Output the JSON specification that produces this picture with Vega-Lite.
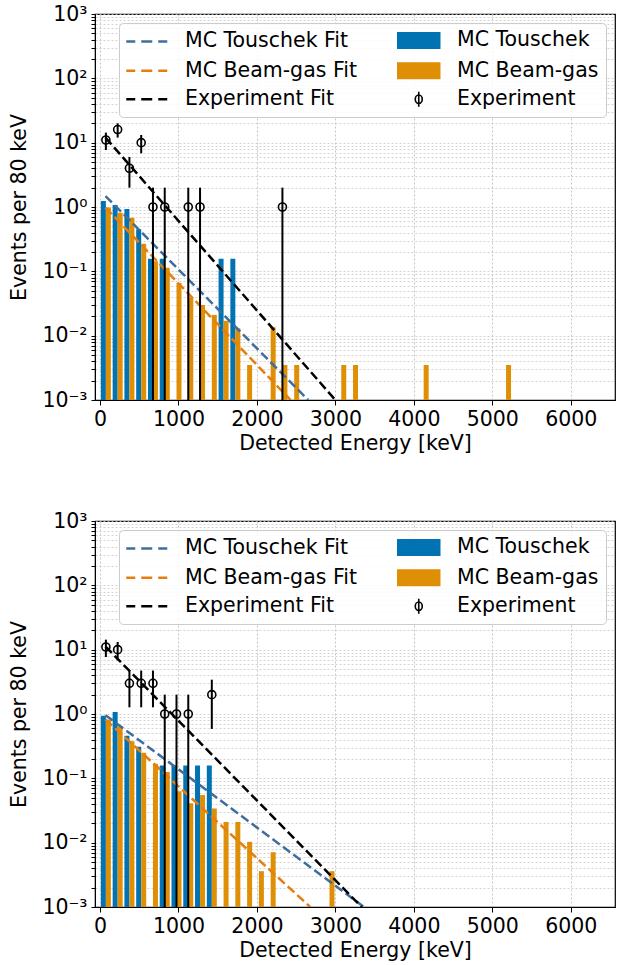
{
  "$schema": "https://vega.github.io/schema/vega-lite/v6.json",
  "padding": {"left": 9, "top": 3, "right": 6, "bottom": 4},
  "background": "white",
  "config": {
    "font": "DejaVu Sans",
    "view": {"stroke": "black", "strokeWidth": 1.2},
    "axis": {
      "labelFont": "DejaVu Sans", "labelFontSize": 20.5, "labelColor": "black",
      "titleFont": "DejaVu Sans", "titleFontSize": 20.5, "titleFontWeight": "normal", "titleColor": "black",
      "domainColor": "black", "tickColor": "black", "labelOverlap": false, "labelBound": false, "labelFlush": false
    },
    "legend": {
      "title": null, "orient": "top-right", "offset": 9, "columns": 2, "direction": "vertical",
      "columnPadding": 36, "rowPadding": 4.5, "labelOffset": 28, "symbolOffset": 10.5, "labelFontSize": 20.5, "labelFont": "DejaVu Sans", "labelColor": "black", "labelLimit": 400,
      "symbolSize": 400, "padding": 7,
      "fillColor": "rgba(255,255,255,0.85)", "strokeColor": "#cccccc", "cornerRadius": 4
    }
  },
  "datasets": {
    "barsdata": [
      {"panel": "top", "series": "MC Touschek", "E": 75, "v": 1.24},
      {"panel": "top", "series": "MC Touschek", "E": 225, "v": 1.07},
      {"panel": "top", "series": "MC Touschek", "E": 375, "v": 0.93},
      {"panel": "top", "series": "MC Touschek", "E": 525, "v": 0.45},
      {"panel": "top", "series": "MC Touschek", "E": 675, "v": 0.157},
      {"panel": "top", "series": "MC Touschek", "E": 825, "v": 0.157},
      {"panel": "top", "series": "MC Touschek", "E": 1575, "v": 0.157},
      {"panel": "top", "series": "MC Touschek", "E": 1725, "v": 0.157},
      {"panel": "top", "series": "MC Beam-gas", "E": 75, "v": 0.98},
      {"panel": "top", "series": "MC Beam-gas", "E": 225, "v": 0.815},
      {"panel": "top", "series": "MC Beam-gas", "E": 375, "v": 0.68},
      {"panel": "top", "series": "MC Beam-gas", "E": 525, "v": 0.268},
      {"panel": "top", "series": "MC Beam-gas", "E": 675, "v": 0.144},
      {"panel": "top", "series": "MC Beam-gas", "E": 825, "v": 0.114},
      {"panel": "top", "series": "MC Beam-gas", "E": 975, "v": 0.066},
      {"panel": "top", "series": "MC Beam-gas", "E": 1125, "v": 0.039},
      {"panel": "top", "series": "MC Beam-gas", "E": 1275, "v": 0.030},
      {"panel": "top", "series": "MC Beam-gas", "E": 1425, "v": 0.021},
      {"panel": "top", "series": "MC Beam-gas", "E": 1575, "v": 0.017},
      {"panel": "top", "series": "MC Beam-gas", "E": 1725, "v": 0.013},
      {"panel": "top", "series": "MC Beam-gas", "E": 1875, "v": 0.0035},
      {"panel": "top", "series": "MC Beam-gas", "E": 2175, "v": 0.0135},
      {"panel": "top", "series": "MC Beam-gas", "E": 2325, "v": 0.0035},
      {"panel": "top", "series": "MC Beam-gas", "E": 2475, "v": 0.0035},
      {"panel": "top", "series": "MC Beam-gas", "E": 3075, "v": 0.0035},
      {"panel": "top", "series": "MC Beam-gas", "E": 3225, "v": 0.0035},
      {"panel": "top", "series": "MC Beam-gas", "E": 4125, "v": 0.0035},
      {"panel": "top", "series": "MC Beam-gas", "E": 5175, "v": 0.0035},
      {"panel": "bottom", "series": "MC Touschek", "E": 75, "v": 0.94},
      {"panel": "bottom", "series": "MC Touschek", "E": 225, "v": 1.07},
      {"panel": "bottom", "series": "MC Touschek", "E": 375, "v": 0.46},
      {"panel": "bottom", "series": "MC Touschek", "E": 525, "v": 0.31},
      {"panel": "bottom", "series": "MC Touschek", "E": 825, "v": 0.158},
      {"panel": "bottom", "series": "MC Touschek", "E": 975, "v": 0.158},
      {"panel": "bottom", "series": "MC Touschek", "E": 1125, "v": 0.158},
      {"panel": "bottom", "series": "MC Touschek", "E": 1275, "v": 0.158},
      {"panel": "bottom", "series": "MC Touschek", "E": 1425, "v": 0.158},
      {"panel": "bottom", "series": "MC Beam-gas", "E": 75, "v": 0.816},
      {"panel": "bottom", "series": "MC Beam-gas", "E": 225, "v": 0.645},
      {"panel": "bottom", "series": "MC Beam-gas", "E": 375, "v": 0.377},
      {"panel": "bottom", "series": "MC Beam-gas", "E": 525, "v": 0.249},
      {"panel": "bottom", "series": "MC Beam-gas", "E": 675, "v": 0.168},
      {"panel": "bottom", "series": "MC Beam-gas", "E": 825, "v": 0.125},
      {"panel": "bottom", "series": "MC Beam-gas", "E": 975, "v": 0.063},
      {"panel": "bottom", "series": "MC Beam-gas", "E": 1125, "v": 0.041},
      {"panel": "bottom", "series": "MC Beam-gas", "E": 1275, "v": 0.055},
      {"panel": "bottom", "series": "MC Beam-gas", "E": 1425, "v": 0.034},
      {"panel": "bottom", "series": "MC Beam-gas", "E": 1575, "v": 0.021},
      {"panel": "bottom", "series": "MC Beam-gas", "E": 1725, "v": 0.021},
      {"panel": "bottom", "series": "MC Beam-gas", "E": 1875, "v": 0.0103},
      {"panel": "bottom", "series": "MC Beam-gas", "E": 2025, "v": 0.0036},
      {"panel": "bottom", "series": "MC Beam-gas", "E": 2175, "v": 0.0071},
      {"panel": "bottom", "series": "MC Beam-gas", "E": 2925, "v": 0.0036}
    ],
    "fitsdata": [
      {"panel": "top", "series": "MC Touschek Fit", "E": 70, "v": 1.48},
      {"panel": "top", "series": "MC Touschek Fit", "E": 2654, "v": 0.001},
      {"panel": "top", "series": "MC Beam-gas Fit", "E": 70, "v": 0.98},
      {"panel": "top", "series": "MC Beam-gas Fit", "E": 2430, "v": 0.001},
      {"panel": "top", "series": "Experiment Fit", "E": 70, "v": 12},
      {"panel": "top", "series": "Experiment Fit", "E": 3000, "v": 0.001},
      {"panel": "bottom", "series": "MC Touschek Fit", "E": 70, "v": 0.96},
      {"panel": "bottom", "series": "MC Touschek Fit", "E": 3365, "v": 0.001},
      {"panel": "bottom", "series": "MC Beam-gas Fit", "E": 70, "v": 0.82},
      {"panel": "bottom", "series": "MC Beam-gas Fit", "E": 2680, "v": 0.001},
      {"panel": "bottom", "series": "Experiment Fit", "E": 70, "v": 11.2},
      {"panel": "bottom", "series": "Experiment Fit", "E": 3335, "v": 0.001}
    ],
    "expdata": [
      {"panel": "top", "series": "Experiment", "E": 75, "v": 11, "lo": 7.68, "hi": 14.32},
      {"panel": "top", "series": "Experiment", "E": 225, "v": 16, "lo": 12, "hi": 20},
      {"panel": "top", "series": "Experiment", "E": 375, "v": 4, "lo": 2, "hi": 6},
      {"panel": "top", "series": "Experiment", "E": 525, "v": 10, "lo": 6.84, "hi": 13.16},
      {"panel": "top", "series": "Experiment", "E": 675, "v": 1, "lo": 0.001, "hi": 2},
      {"panel": "top", "series": "Experiment", "E": 825, "v": 1, "lo": 0.001, "hi": 2},
      {"panel": "top", "series": "Experiment", "E": 1125, "v": 1, "lo": 0.001, "hi": 2},
      {"panel": "top", "series": "Experiment", "E": 1275, "v": 1, "lo": 0.001, "hi": 2},
      {"panel": "top", "series": "Experiment", "E": 2325, "v": 1, "lo": 0.001, "hi": 2},
      {"panel": "bottom", "series": "Experiment", "E": 75, "v": 11, "lo": 7.68, "hi": 14.32},
      {"panel": "bottom", "series": "Experiment", "E": 225, "v": 10, "lo": 6.84, "hi": 13.16},
      {"panel": "bottom", "series": "Experiment", "E": 375, "v": 3, "lo": 1.27, "hi": 4.73},
      {"panel": "bottom", "series": "Experiment", "E": 525, "v": 3, "lo": 1.27, "hi": 4.73},
      {"panel": "bottom", "series": "Experiment", "E": 675, "v": 3, "lo": 1.27, "hi": 4.73},
      {"panel": "bottom", "series": "Experiment", "E": 825, "v": 1, "lo": 0.001, "hi": 2},
      {"panel": "bottom", "series": "Experiment", "E": 975, "v": 1, "lo": 0.001, "hi": 2},
      {"panel": "bottom", "series": "Experiment", "E": 1125, "v": 1, "lo": 0.001, "hi": 2},
      {"panel": "bottom", "series": "Experiment", "E": 1425, "v": 2, "lo": 0.586, "hi": 3.414}
    ]
  },
  "spacing": 55,
  "resolve": {"scale": {"color": "independent"}},
  "vconcat": [
    {
      "width": 520, "height": 386,
      "layer": [
        {
          "data": {"name": "barsdata"},
          "transform": [{"filter": "datum.panel === 'top' && datum.series === 'MC Touschek'"}],
          "mark": {"type": "bar", "width": 5, "xOffset": -2.5, "clip": true},
          "encoding": {
            "x": {"field": "E", "type": "quantitative", "scale": {"domain": [0, 6500], "nice": false, "zero": false},
              "axis": {"title": "Detected Energy [keV]", "values": [0, 1000, 2000, 3000, 4000, 5000, 6000], "format": "d", "tickSize": 5, "labelPadding": 4, "titlePadding": 4, "grid": true, "gridDash": [2, 2], "gridColor": "#b8b8b8", "gridWidth": 0.8}},
            "y": {"field": "v", "type": "quantitative", "scale": {"type": "log", "domain": [0.001, 1000], "nice": false},
              "axis": {"title": "Events per 80 keV", "orient": "left",
                "values": [0.001, 0.002, 0.003, 0.004, 0.005, 0.006, 0.007, 0.008, 0.009, 0.01, 0.02, 0.03, 0.04, 0.05, 0.06, 0.07, 0.08, 0.09, 0.1, 0.2, 0.3, 0.4, 0.5, 0.6, 0.7, 0.8, 0.9, 1, 2, 3, 4, 5, 6, 7, 8, 9, 10, 20, 30, 40, 50, 60, 70, 80, 90, 100, 200, 300, 400, 500, 600, 700, 800, 900, 1000],
                "labelExpr": "datum.value === 1000 ? '10³' : datum.value === 100 ? '10²' : datum.value === 10 ? '10¹' : datum.value === 1 ? '10⁰' : datum.value === 0.1 ? '10⁻¹' : datum.value === 0.01 ? '10⁻²' : datum.value === 0.001 ? '10⁻³' : ''",
                "tickSize": 4,
                "labelPadding": 4, "titlePadding": 12, "grid": true,
                "gridDash": [2, 2], "gridWidth": 0.8, "gridColor": "#c8c8c8"}},
            "y2": {"datum": 0.001},
            "color": {"field": "series", "type": "nominal",
              "scale": {"domain": ["MC Touschek Fit", "MC Beam-gas Fit", "Experiment Fit", "MC Touschek", "MC Beam-gas", "Experiment"], "range": ["#3f6d9c", "#e67e0e", "#000000", "#0173b2", "#de8f05", "#000000"]},
              "legend": {
                "encode": {"symbols": {"update": {
                  "shape": {"signal": "(datum.value === 'MC Touschek Fit' || datum.value === 'MC Beam-gas Fit' || datum.value === 'Experiment Fit') ? 'M-2.05,0H-1.15M-0.55,0H0.55M1.15,0H2.05' : datum.value === 'Experiment' ? 'M0,-0.75V0.75M0.35,0A0.35,0.42 0 1,1 -0.35,0A0.35,0.42 0 1,1 0.35,0M0.35,0A0.35,0.42 0 1,0 -0.35,0A0.35,0.42 0 1,0 0.35,0' : 'M-2.05,-0.73H2.05V0.73H-2.05Z'"},
                  "stroke": {"signal": "datum.value === 'MC Touschek Fit' ? '#3f6d9c' : datum.value === 'MC Beam-gas Fit' ? '#e67e0e' : (datum.value === 'Experiment Fit' || datum.value === 'Experiment') ? '#000000' : 'transparent'"},
                  "strokeWidth": {"signal": "datum.value === 'Experiment' ? 1.6 : 2.5"},
                  "opacity": {"value": 1}
                }}}
              }}
          }
        },
        {
          "data": {"name": "barsdata"},
          "transform": [{"filter": "datum.panel === 'top' && datum.series === 'MC Beam-gas'"}],
          "mark": {"type": "bar", "width": 5, "xOffset": 2.5, "clip": true},
          "encoding": {
            "x": {"field": "E", "type": "quantitative"},
            "y": {"field": "v", "type": "quantitative"},
            "y2": {"datum": 0.001},
            "color": {"field": "series", "type": "nominal",
              "scale": {"domain": ["MC Touschek Fit", "MC Beam-gas Fit", "Experiment Fit", "MC Touschek", "MC Beam-gas", "Experiment"], "range": ["#3f6d9c", "#e67e0e", "#000000", "#0173b2", "#de8f05", "#000000"]}}
          }
        },
        {
          "data": {"name": "fitsdata"},
          "transform": [{"filter": "datum.panel === 'top'"}],
          "mark": {"type": "line", "strokeDash": [9, 4], "strokeWidth": 2.5, "clip": true},
          "encoding": {
            "x": {"field": "E", "type": "quantitative"},
            "y": {"field": "v", "type": "quantitative"},
            "color": {"field": "series", "type": "nominal",
              "scale": {"domain": ["MC Touschek Fit", "MC Beam-gas Fit", "Experiment Fit", "MC Touschek", "MC Beam-gas", "Experiment"], "range": ["#3f6d9c", "#e67e0e", "#000000", "#0173b2", "#de8f05", "#000000"]}}
          }
        },
        {
          "data": {"name": "expdata"},
          "transform": [{"filter": "datum.panel === 'top'"}],
          "mark": {"type": "rule", "strokeWidth": 2, "clip": true},
          "encoding": {
            "x": {"field": "E", "type": "quantitative"},
            "y": {"field": "lo", "type": "quantitative"},
            "y2": {"field": "hi"},
            "color": {"field": "series", "type": "nominal",
              "scale": {"domain": ["MC Touschek Fit", "MC Beam-gas Fit", "Experiment Fit", "MC Touschek", "MC Beam-gas", "Experiment"], "range": ["#3f6d9c", "#e67e0e", "#000000", "#0173b2", "#de8f05", "#000000"]}}
          }
        },
        {
          "data": {"name": "expdata"},
          "transform": [{"filter": "datum.panel === 'top'"}],
          "mark": {"type": "point", "shape": "circle", "filled": false, "size": 64, "strokeWidth": 1.6, "opacity": 1, "clip": true},
          "encoding": {
            "x": {"field": "E", "type": "quantitative"},
            "y": {"field": "v", "type": "quantitative"},
            "color": {"field": "series", "type": "nominal",
              "scale": {"domain": ["MC Touschek Fit", "MC Beam-gas Fit", "Experiment Fit", "MC Touschek", "MC Beam-gas", "Experiment"], "range": ["#3f6d9c", "#e67e0e", "#000000", "#0173b2", "#de8f05", "#000000"]}}
          }
        }
      ]
    },
    {
      "width": 520, "height": 386,
      "layer": [
        {
          "data": {"name": "barsdata"},
          "transform": [{"filter": "datum.panel === 'bottom' && datum.series === 'MC Touschek'"}],
          "mark": {"type": "bar", "width": 5, "xOffset": -2.5, "clip": true},
          "encoding": {
            "x": {"field": "E", "type": "quantitative", "scale": {"domain": [0, 6500], "nice": false, "zero": false},
              "axis": {"title": "Detected Energy [keV]", "values": [0, 1000, 2000, 3000, 4000, 5000, 6000], "format": "d", "tickSize": 5, "labelPadding": 4, "titlePadding": 4, "grid": true, "gridDash": [2, 2], "gridColor": "#b8b8b8", "gridWidth": 0.8}},
            "y": {"field": "v", "type": "quantitative", "scale": {"type": "log", "domain": [0.001, 1000], "nice": false},
              "axis": {"title": "Events per 80 keV", "orient": "left",
                "values": [0.001, 0.002, 0.003, 0.004, 0.005, 0.006, 0.007, 0.008, 0.009, 0.01, 0.02, 0.03, 0.04, 0.05, 0.06, 0.07, 0.08, 0.09, 0.1, 0.2, 0.3, 0.4, 0.5, 0.6, 0.7, 0.8, 0.9, 1, 2, 3, 4, 5, 6, 7, 8, 9, 10, 20, 30, 40, 50, 60, 70, 80, 90, 100, 200, 300, 400, 500, 600, 700, 800, 900, 1000],
                "labelExpr": "datum.value === 1000 ? '10³' : datum.value === 100 ? '10²' : datum.value === 10 ? '10¹' : datum.value === 1 ? '10⁰' : datum.value === 0.1 ? '10⁻¹' : datum.value === 0.01 ? '10⁻²' : datum.value === 0.001 ? '10⁻³' : ''",
                "tickSize": 4,
                "labelPadding": 4, "titlePadding": 12, "grid": true,
                "gridDash": [2, 2], "gridWidth": 0.8, "gridColor": "#c8c8c8"}},
            "y2": {"datum": 0.001},
            "color": {"field": "series", "type": "nominal",
              "scale": {"domain": ["MC Touschek Fit", "MC Beam-gas Fit", "Experiment Fit", "MC Touschek", "MC Beam-gas", "Experiment"], "range": ["#3f6d9c", "#e67e0e", "#000000", "#0173b2", "#de8f05", "#000000"]},
              "legend": {
                "encode": {"symbols": {"update": {
                  "shape": {"signal": "(datum.value === 'MC Touschek Fit' || datum.value === 'MC Beam-gas Fit' || datum.value === 'Experiment Fit') ? 'M-2.05,0H-1.15M-0.55,0H0.55M1.15,0H2.05' : datum.value === 'Experiment' ? 'M0,-0.75V0.75M0.35,0A0.35,0.42 0 1,1 -0.35,0A0.35,0.42 0 1,1 0.35,0M0.35,0A0.35,0.42 0 1,0 -0.35,0A0.35,0.42 0 1,0 0.35,0' : 'M-2.05,-0.73H2.05V0.73H-2.05Z'"},
                  "stroke": {"signal": "datum.value === 'MC Touschek Fit' ? '#3f6d9c' : datum.value === 'MC Beam-gas Fit' ? '#e67e0e' : (datum.value === 'Experiment Fit' || datum.value === 'Experiment') ? '#000000' : 'transparent'"},
                  "strokeWidth": {"signal": "datum.value === 'Experiment' ? 1.6 : 2.5"},
                  "opacity": {"value": 1}
                }}}
              }}
          }
        },
        {
          "data": {"name": "barsdata"},
          "transform": [{"filter": "datum.panel === 'bottom' && datum.series === 'MC Beam-gas'"}],
          "mark": {"type": "bar", "width": 5, "xOffset": 2.5, "clip": true},
          "encoding": {
            "x": {"field": "E", "type": "quantitative"},
            "y": {"field": "v", "type": "quantitative"},
            "y2": {"datum": 0.001},
            "color": {"field": "series", "type": "nominal",
              "scale": {"domain": ["MC Touschek Fit", "MC Beam-gas Fit", "Experiment Fit", "MC Touschek", "MC Beam-gas", "Experiment"], "range": ["#3f6d9c", "#e67e0e", "#000000", "#0173b2", "#de8f05", "#000000"]}}
          }
        },
        {
          "data": {"name": "fitsdata"},
          "transform": [{"filter": "datum.panel === 'bottom'"}],
          "mark": {"type": "line", "strokeDash": [9, 4], "strokeWidth": 2.5, "clip": true},
          "encoding": {
            "x": {"field": "E", "type": "quantitative"},
            "y": {"field": "v", "type": "quantitative"},
            "color": {"field": "series", "type": "nominal",
              "scale": {"domain": ["MC Touschek Fit", "MC Beam-gas Fit", "Experiment Fit", "MC Touschek", "MC Beam-gas", "Experiment"], "range": ["#3f6d9c", "#e67e0e", "#000000", "#0173b2", "#de8f05", "#000000"]}}
          }
        },
        {
          "data": {"name": "expdata"},
          "transform": [{"filter": "datum.panel === 'bottom'"}],
          "mark": {"type": "rule", "strokeWidth": 2, "clip": true},
          "encoding": {
            "x": {"field": "E", "type": "quantitative"},
            "y": {"field": "lo", "type": "quantitative"},
            "y2": {"field": "hi"},
            "color": {"field": "series", "type": "nominal",
              "scale": {"domain": ["MC Touschek Fit", "MC Beam-gas Fit", "Experiment Fit", "MC Touschek", "MC Beam-gas", "Experiment"], "range": ["#3f6d9c", "#e67e0e", "#000000", "#0173b2", "#de8f05", "#000000"]}}
          }
        },
        {
          "data": {"name": "expdata"},
          "transform": [{"filter": "datum.panel === 'bottom'"}],
          "mark": {"type": "point", "shape": "circle", "filled": false, "size": 64, "strokeWidth": 1.6, "opacity": 1, "clip": true},
          "encoding": {
            "x": {"field": "E", "type": "quantitative"},
            "y": {"field": "v", "type": "quantitative"},
            "color": {"field": "series", "type": "nominal",
              "scale": {"domain": ["MC Touschek Fit", "MC Beam-gas Fit", "Experiment Fit", "MC Touschek", "MC Beam-gas", "Experiment"], "range": ["#3f6d9c", "#e67e0e", "#000000", "#0173b2", "#de8f05", "#000000"]}}
          }
        }
      ]
    }
  ]
}
